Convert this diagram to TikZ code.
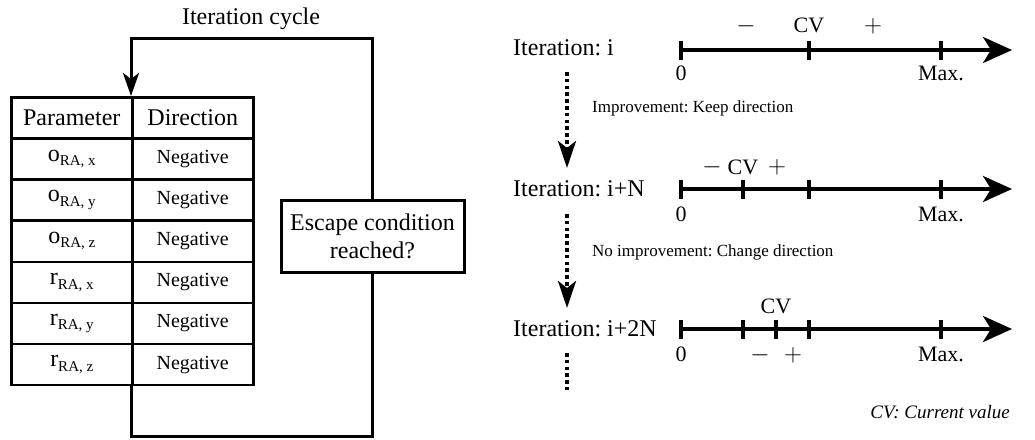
\documentclass[tikz,border=0pt]{standalone}
\usepackage{fontspec}
\setmainfont{Liberation Serif}
\usetikzlibrary{arrows.meta,calc}
\frenchspacing

\newcommand\lowsub[1]{\raisebox{-4.5pt}{\fontsize{15}{15}\selectfont #1}}

\tikzset{
  x=1pt, y=-1pt,
  big/.style={inner sep=0pt, font=\fontsize{24}{29}\selectfont},
  axlbl/.style={inner sep=0pt, anchor=base, font=\fontsize{22}{26}\selectfont},
  sign/.style={inner sep=0pt, font=\fontsize{26}{30}\selectfont},
  note/.style={inner sep=0pt, anchor=base west, font=\fontsize{17}{20}\selectfont},
  cell/.style={draw, line width=2.5pt, minimum width=121pt, minimum height=41.14pt,
               inner sep=0pt, anchor=north west},
  hcell/.style={cell, font=\fontsize{24}{29}\selectfont},
  vcell/.style={cell, font=\fontsize{20}{24}\selectfont},
  pcell/.style={cell, font=\fontsize{24}{29}\selectfont},
  decision/.style={draw, line width=3pt, minimum width=183pt, minimum height=72pt,
                   inner sep=2pt, align=center, font=\fontsize{24}{28}\selectfont},
  loopline/.style={line width=3pt},
  axis/.style={line width=4pt, -{Stealth[length=29pt, width=26pt, inset=8pt]}},
  tickmark/.style={line width=4pt},
  dotline/.style={line width=3.5pt, dash pattern=on 3.5pt off 3.3pt},
  dotarrow/.style={dotline, -{Stealth[length=27pt, width=18pt, inset=7pt]}},
}

\begin{document}
\begin{tikzpicture}
\useasboundingbox (0,0) rectangle (1035,439);

% ---------- parameter table ----------
\node[hcell] (hP) at (10,96) {Parameter};
\node[hcell] (hD) at (131,96) {Direction};
\foreach \i/\v/\c in {1/o/x, 2/o/y, 3/o/z, 4/r/x, 5/r/y, 6/r/z} {
  \node[pcell] (p\i) at (10,{96+41.14*\i}) {\v\lowsub{RA, \c}};
  \node[vcell] (d\i) at (131,{96+41.14*\i}) {Negative};
}

% ---------- escape condition and loop ----------
\node[decision] (esc) at (372.5,236) {Escape condition\\reached?};
\node[big, anchor=base] (cyc) at (251,24) {Iteration cycle};
\coordinate (looptop) at (131,38);
\coordinate (loopbot) at (131,436);
\draw[loopline, -{Stealth[length=23pt, width=16pt, inset=6pt]}]
  (esc.north) |- (looptop) -- (hD.north west);
\draw[loopline] (d6.south west) -- (loopbot) -| (esc.south);

% ---------- iteration labels ----------
\node[big, anchor=west] (it1) at (513,48) {Iteration: i};
\node[big, anchor=west] (it2) at (513,189) {Iteration: i+N};
\node[big, anchor=west] (it3) at (513,329) {Iteration: i+2N};

\coordinate (d1a) at (567,72);  \coordinate (d1b) at (567,168);
\coordinate (d2a) at (567,214); \coordinate (d2b) at (567,308);
\coordinate (d3a) at (567,353); \coordinate (d3b) at (567,390);
\draw[dotarrow] (d1a) -- (d1b);
\draw[dotarrow] (d2a) -- (d2b);
\draw[dotline] (d3a) -- (d3b);

\node[note] (imp) at (592,112) {Improvement: Keep direction};
\node[note] (noimp) at (592,256) {No improvement: Change direction};

% ---------- number line 1 ----------
\coordinate (a1s) at (681,50); \coordinate (a1e) at (1012,50);
\draw[axis] (a1s) -- (a1e);
\foreach \x in {681,809,941} \draw[tickmark] (\x,40.5) -- (\x,59.5);
\node[axlbl] (z1) at (681,80) {0};
\node[axlbl] (m1) at (941,80) {Max.};
\node[axlbl] (cv1) at (809,32) {CV};
\node[sign] (mi1) at (746,26) {$-$};
\node[sign] (pl1) at (873,26) {$+$};

% ---------- number line 2 ----------
\coordinate (a2s) at (681,189); \coordinate (a2e) at (1012,189);
\draw[axis] (a2s) -- (a2e);
\foreach \x in {681,743,809,941} \draw[tickmark] (\x,179.5) -- (\x,198.5);
\node[axlbl] (z2) at (681,221) {0};
\node[axlbl] (m2) at (941,221) {Max.};
\node[axlbl] (cv2) at (743,174) {CV};
\node[sign] (mi2) at (712,167) {$-$};
\node[sign] (pl2) at (777,167) {$+$};

% ---------- number line 3 ----------
\coordinate (a3s) at (681,329); \coordinate (a3e) at (1012,329);
\draw[axis] (a3s) -- (a3e);
\foreach \x in {681,743,776,809,941} \draw[tickmark] (\x,319.5) -- (\x,338.5);
\node[axlbl] (z3) at (681,361) {0};
\node[axlbl] (m3) at (941,361) {Max.};
\node[axlbl] (cv3) at (776,313) {CV};
\node[sign] (mi3) at (760,355) {$-$};
\node[sign] (pl3) at (793,355) {$+$};

\node[inner sep=0pt, anchor=base east, font=\fontsize{19}{23}\selectfont\itshape]
  (legend) at (1010,418) {CV: Current value};
\end{tikzpicture}
\end{document}
